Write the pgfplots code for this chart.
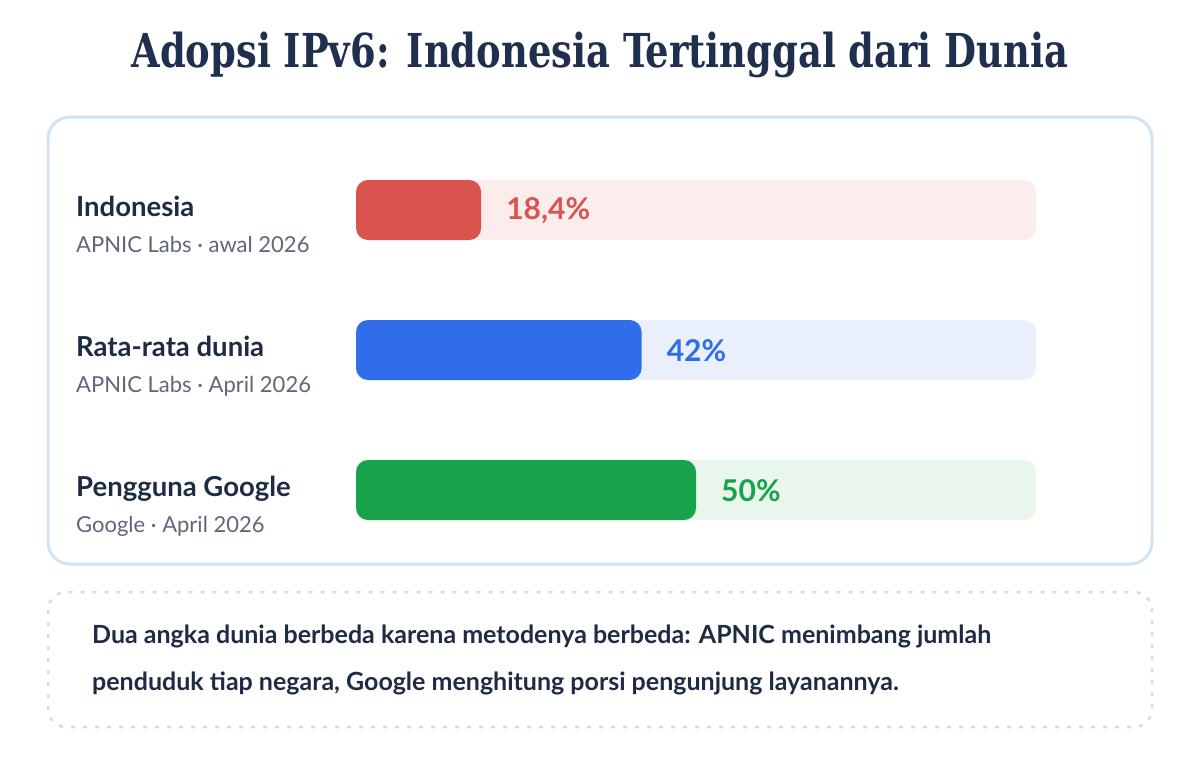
\documentclass[border=0pt]{standalone}
\usepackage{pgfplots}
\pgfplotsset{compat=1.18}
\usepackage{fontspec}
\setmainfont{Lato}
\newfontfamily\titlefont{DejaVu Serif Condensed}
\definecolor{navy}{HTML}{1F2F4D}
\definecolor{nametext}{HTML}{1E2B45}
\definecolor{subtext}{HTML}{5E6878}
\definecolor{cred}{HTML}{D9534F}
\definecolor{credtrack}{HTML}{FDECEC}
\definecolor{cblue}{HTML}{2F6DEB}
\definecolor{cbluetrack}{HTML}{E9F0FB}
\definecolor{cgreen}{HTML}{16A34A}
\definecolor{cgreentrack}{HTML}{E8F6EC}
\definecolor{cardborder}{HTML}{D3E3F6}
\definecolor{dotborder}{HTML}{D5DAE6}
\begin{document}
\begin{tikzpicture}
\begin{scope}[x=1bp,y=-1bp]
\fill[white] (0,0) rectangle (1200,760);
\draw[rounded corners=22bp, line width=3bp, draw=cardborder, fill=white] (48,117) rectangle (1152,564);
\draw[rounded corners=18bp, line width=2.5bp, draw=dotborder, dash pattern=on 4bp off 8bp] (48,592) rectangle (1152,727);
\node[anchor=center, text=navy, font=\titlefont\bfseries\fontsize{41bp}{46bp}\selectfont] at (600,55) {\scalebox{1}[1.14]{Adopsi IPv6: Indonesia Tertinggal dari Dunia}};
\foreach \n/\s/\y in {Indonesia/{APNIC Labs · awal 2026}/0, Rata-rata dunia/{APNIC Labs · April 2026}/140, Pengguna Google/{Google · April 2026}/280}{
  \node[anchor=base west, inner sep=0pt, text=nametext, font=\bfseries\fontsize{27.5bp}{30bp}\selectfont] at (76,216+\y) {\n};
  \node[anchor=base west, inner sep=0pt, text=subtext, font=\fontsize{22bp}{26bp}\selectfont] at (76,252+\y) {\s};
}
\node[anchor=base west, inner sep=0pt, text=nametext, font=\bfseries\fontsize{25bp}{28bp}\selectfont] at (92,643) {Dua angka dunia berbeda karena metodenya berbeda: APNIC menimbang jumlah};
\node[anchor=base west, inner sep=0pt, text=nametext, font=\bfseries\fontsize{25bp}{28bp}\selectfont] at (92,690) {penduduk tiap negara, Google menghitung porsi pengunjung layanannya.};
\end{scope}
\begin{axis}[at={(356bp,-160bp)}, anchor=north west, width=680bp, height=380bp, scale only axis,
  xmin=0, xmax=100, ymin=160, ymax=540, y dir=reverse, hide axis, clip=false]
\addplot[xbar, bar shift=0pt, bar width=60bp, fill=credtrack, draw=none, rounded corners=12bp] coordinates {(100,210)};
\addplot[xbar, bar shift=0pt, bar width=60bp, fill=cbluetrack, draw=none, rounded corners=12bp] coordinates {(100,350)};
\addplot[xbar, bar shift=0pt, bar width=60bp, fill=cgreentrack, draw=none, rounded corners=12bp] coordinates {(100,490)};
\addplot[xbar, bar shift=0pt, bar width=60bp, fill=cred, draw=none, rounded corners=12bp] coordinates {(18.4,210)};
\addplot[xbar, bar shift=0pt, bar width=60bp, fill=cblue, draw=none, rounded corners=12bp] coordinates {(42,350)};
\addplot[xbar, bar shift=0pt, bar width=60bp, fill=cgreen, draw=none, rounded corners=12bp] coordinates {(50,490)};
\node[anchor=west, inner sep=0pt, xshift=25bp, text=cred, font=\bfseries\fontsize{30bp}{34bp}\selectfont] at (axis cs:18.4,211) {18,4\%};
\node[anchor=west, inner sep=0pt, xshift=25bp, text=cblue, font=\bfseries\fontsize{30bp}{34bp}\selectfont] at (axis cs:42,351) {42\%};
\node[anchor=west, inner sep=0pt, xshift=25bp, text=cgreen, font=\bfseries\fontsize{30bp}{34bp}\selectfont] at (axis cs:50,491) {50\%};
\end{axis}
\end{tikzpicture}
\end{document}
